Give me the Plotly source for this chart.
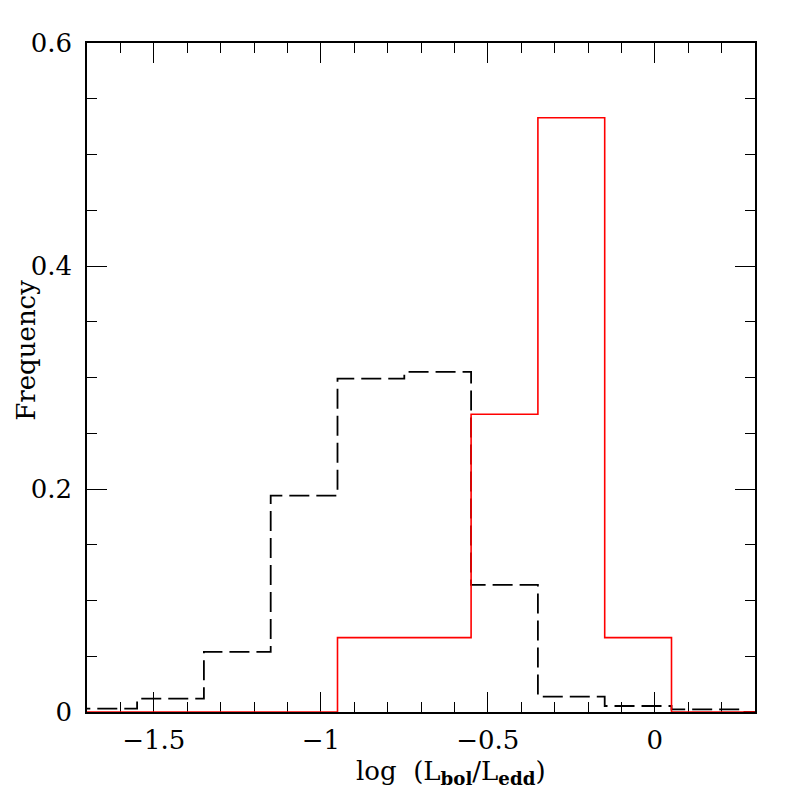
import plotly.graph_objects as go

# histogram bin edges (log Lbol/Ledd)
bin_edges = [-1.75, -1.55, -1.35, -1.15, -0.95, -0.75, -0.55, -0.35, -0.15, 0.05, 0.25, 0.45]

# comparison sample (black dashed)
freq_all = [0.003, 0.012, 0.054, 0.194, 0.299, 0.305, 0.114, 0.0137, 0.0054, 0.0024, 0.0]

# selected sample (red)
freq_sel = [0.0, 0.0, 0.0, 0.0, 0.0667, 0.0667, 0.267, 0.533, 0.0667, 0.0, 0.0]

x_ticks = [-1.5, -1, -0.5, 0]
x_labels = ['\u22121.5', '\u22121', '\u22120.5', '0']
y_ticks = [0, 0.2, 0.4, 0.6]
y_labels = ['0', '0.2', '0.4', '0.6']


def step(vals):
    # repeat the last value so the final bin is drawn to its right edge
    return list(vals) + [vals[-1]]


fig = go.Figure()

fig.add_trace(go.Scatter(
    x = bin_edges,
    y = step(freq_all),
    mode = 'lines',
    line = dict(color = 'black', width = 1.8, dash = '20px,7px', shape = 'hv'),
    showlegend = False,
))

fig.add_trace(go.Scatter(
    x = bin_edges,
    y = step(freq_sel),
    mode = 'lines',
    line = dict(color = 'red', width = 1.6, shape = 'hv'),
    showlegend = False,
))

font = dict(family = 'DejaVu Serif', size = 26, color = 'black')

axis_common = dict(
    ticks = 'inside',
    ticklen = 20,
    tickwidth = 1.3,
    tickcolor = 'black',
    showline = True,
    linecolor = 'black',
    linewidth = 1.5,
    mirror = 'allticks',
    showgrid = False,
    zeroline = False,
    layer = 'below traces',
    tickfont = font,
)

# page body has an 8px margin, so the figure is 8px smaller than the window
fig.update_layout(
    width = 789,
    height = 789,
    margin = dict(l = 79, r = 42, t = 35, b = 85),
    plot_bgcolor = 'white',
    paper_bgcolor = 'white',
    font = font,
    xaxis = dict(
        range = [-1.7, 0.3],
        tickvals = x_ticks,
        ticktext = x_labels,
        ticklabelstandoff = 4,
        minor = dict(dtick = 0.1, tick0 = 0, ticks = 'inside', ticklen = 10,
                     tickwidth = 1.3, tickcolor = 'black'),
        **axis_common
    ),
    yaxis = dict(
        range = [0, 0.6],
        tickvals = y_ticks,
        ticktext = y_labels,
        ticklabelstandoff = 8,
        minor = dict(dtick = 0.05, tick0 = 0, ticks = 'inside', ticklen = 10,
                     tickwidth = 1.3, tickcolor = 'black'),
        **axis_common
    ),
    annotations = [
        dict(xref = 'paper', yref = 'paper', x = 0.545, y = -0.091,
             text = 'log  (L<sub><b>bol</b></sub>/L<sub><b>edd</b></sub>)',
             showarrow = False, font = font, xanchor = 'center', yanchor = 'middle'),
        dict(xref = 'paper', yref = 'paper', x = -0.0913, y = 0.54,
             text = 'Frequency', textangle = -90,
             showarrow = False, font = font,
             xanchor = 'center', yanchor = 'middle'),
    ],
)

fig.write_html("out.html")
